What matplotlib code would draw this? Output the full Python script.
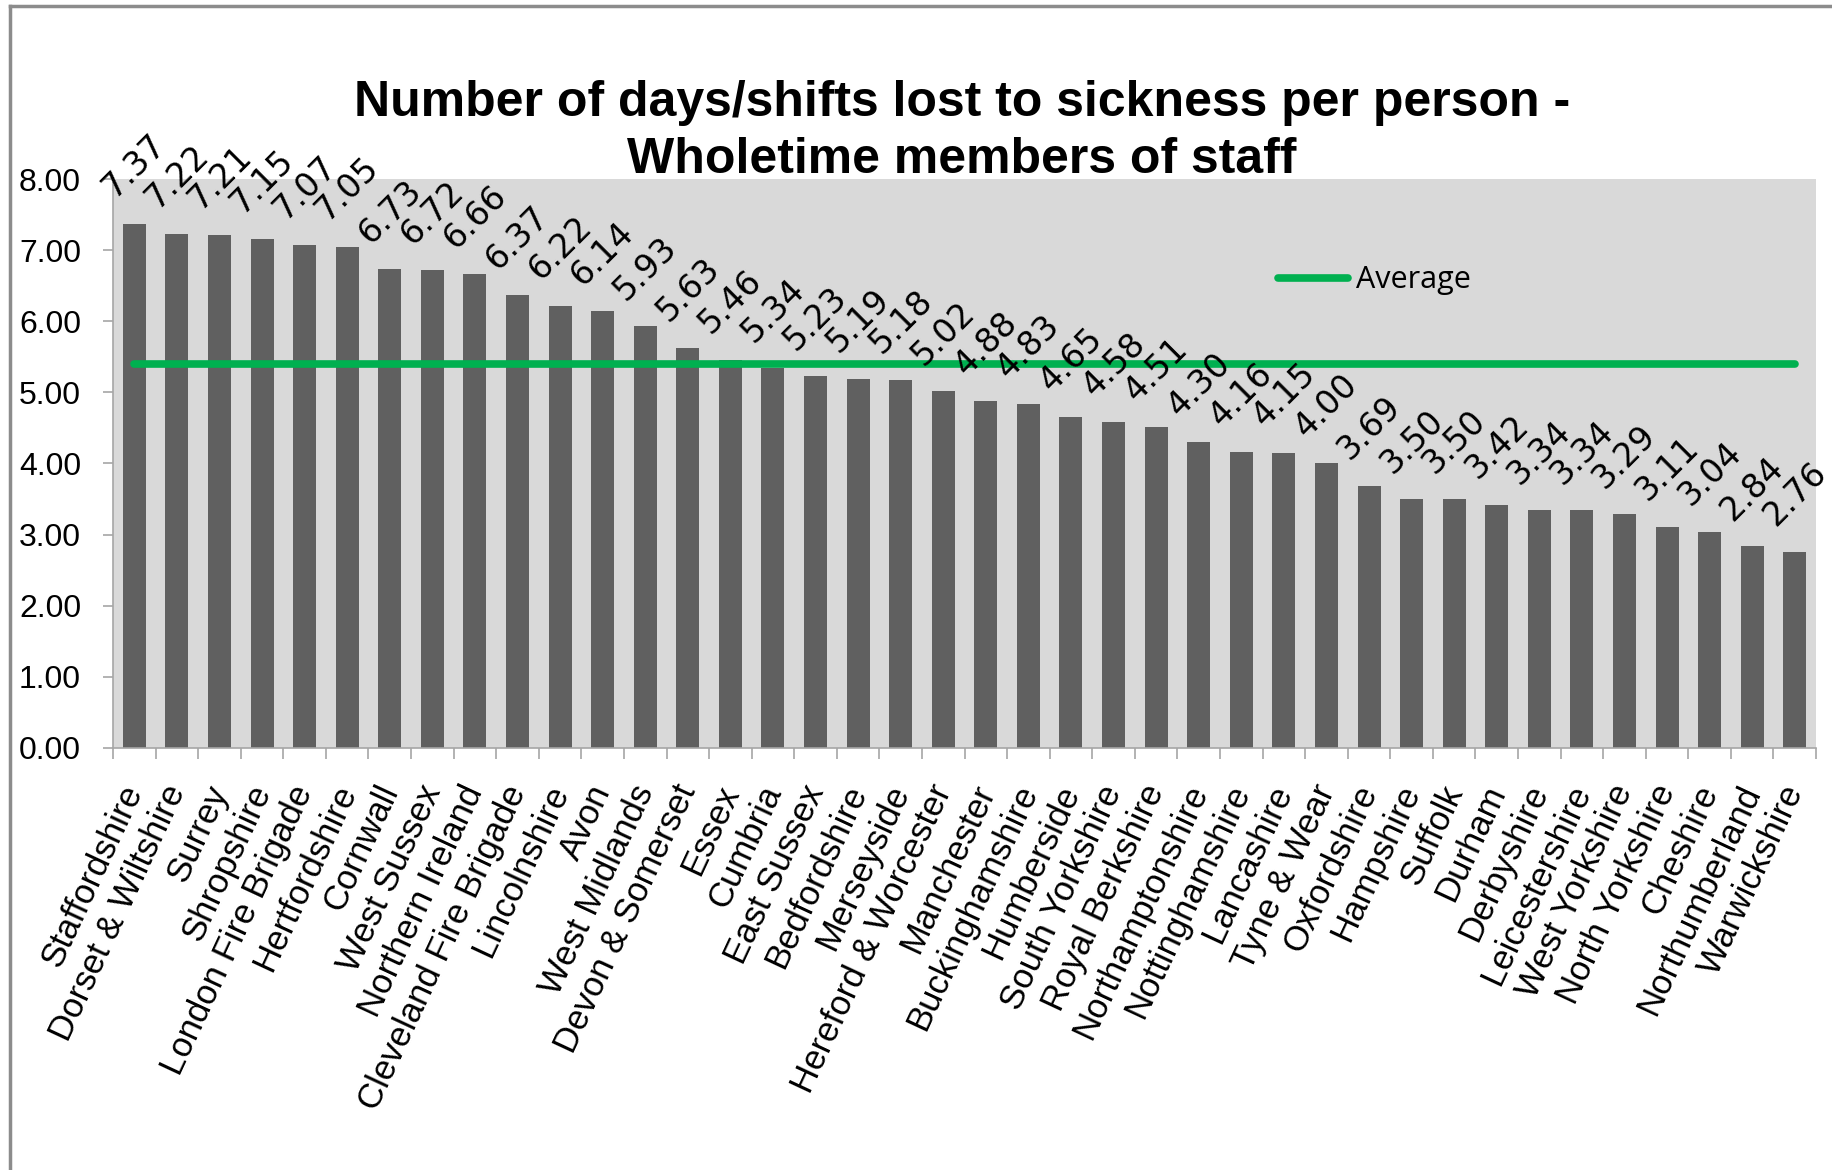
import numpy as np
import matplotlib
matplotlib.use('Agg')
import matplotlib.pyplot as plt
from matplotlib.lines import Line2D

plt.rcParams['font.family'] = ['Liberation Sans', 'DejaVu Sans']

# data
services = ['Staffordshire', 'Dorset & Wiltshire', 'Surrey', 'Shropshire',
            'London Fire Brigade', 'Hertfordshire', 'Cornwall', 'West Sussex',
            'Northern Ireland', 'Cleveland Fire Brigade', 'Lincolnshire', 'Avon',
            'West Midlands', 'Devon & Somerset', 'Essex', 'Cumbria', 'East Sussex',
            'Bedfordshire', 'Merseyside', 'Hereford & Worcester', 'Manchester',
            'Buckinghamshire', 'Humberside', 'South Yorkshire', 'Royal Berkshire',
            'Northamptonshire', 'Nottinghamshire', 'Lancashire', 'Tyne & Wear',
            'Oxfordshire', 'Hampshire', 'Suffolk', 'Durham', 'Derbyshire',
            'Leicestershire', 'West Yorkshire', 'North Yorkshire', 'Cheshire',
            'Northumberland', 'Warwickshire']
days_lost = [7.37, 7.22, 7.21, 7.15, 7.07, 7.05, 6.73, 6.72, 6.66, 6.37,
             6.22, 6.14, 5.93, 5.63, 5.46, 5.34, 5.23, 5.19, 5.18, 5.02,
             4.88, 4.83, 4.65, 4.58, 4.51, 4.30, 4.16, 4.15, 4.00, 3.69,
             3.50, 3.50, 3.42, 3.34, 3.34, 3.29, 3.11, 3.04, 2.84, 2.76]
average_value = 5.40
y_ticks = [0, 1, 2, 3, 4, 5, 6, 7, 8]

fig = plt.figure(figsize=(18.32, 11.70), dpi=100)
ax = fig.add_axes([0.0617, 0.3607, 0.9296, 0.4863])
ax.set_facecolor('#D9D9D9')

x = np.arange(len(services))
ax.bar(x, days_lost, width=0.54, color='#606060', zorder=2)
ax.plot([x[0], x[-1]], [average_value, average_value], color='#00B050',
        lw=5.5, solid_capstyle='round', zorder=3)

for xi, v in zip(x, days_lost):
    ax.annotate(f'{v:.2f}', (xi, v), xytext=(0, 14), textcoords='offset points',
                rotation=45, ha='center', va='bottom', fontsize=24,
                family='DejaVu Sans', clip_on=False, zorder=4)

ax.set_xlim(-0.5, len(services) - 0.5)
ax.set_ylim(0, 8)
ax.set_yticks(y_ticks)
ax.set_yticklabels([f'{t:.2f}' for t in y_ticks], fontsize=23)
ax.set_xticks(x)
ax.set_xticklabels(services, rotation=65, ha='right', va='center',
                   rotation_mode='anchor', fontsize=25)
ax.tick_params(axis='x', length=0, pad=28)
ax.set_xticks(np.arange(-0.5, len(services)), minor=True)
ax.tick_params(axis='x', which='minor', length=8, color='#A6A6A6', width=1.2)
ax.tick_params(axis='y', length=7, color='#A6A6A6', width=1.2, pad=16)

for s in ['top', 'right']:
    ax.spines[s].set_visible(False)
for s in ['left', 'bottom']:
    ax.spines[s].set_color('#A6A6A6')
    ax.spines[s].set_linewidth(1.2)

handle = Line2D([], [], color='#00B050', lw=5.5, solid_capstyle='round')
ax.legend([handle], ['Average'], loc='center left', bbox_to_anchor=(0.668, 0.822),
          frameon=False, handlelength=2.3, handletextpad=0.25,
          prop={'family': 'Open Sans', 'size': 22})

fig.text(0.525, 0.8875, 'Number of days/shifts lost to sickness per person -\nWholetime members of staff',
         ha='center', va='center', fontsize=36, fontweight='bold', linespacing=1.3)

# outer chart border (top and left edges visible)
fig.add_artist(Line2D([0.0055, 0.0055], [0, 0.9945], transform=fig.transFigure,
                      color='#8C8C8C', lw=2.5))
fig.add_artist(Line2D([0.0055, 1.0], [0.9945, 0.9945], transform=fig.transFigure,
                      color='#8C8C8C', lw=2.5))

fig.savefig('out.png', dpi=100)
